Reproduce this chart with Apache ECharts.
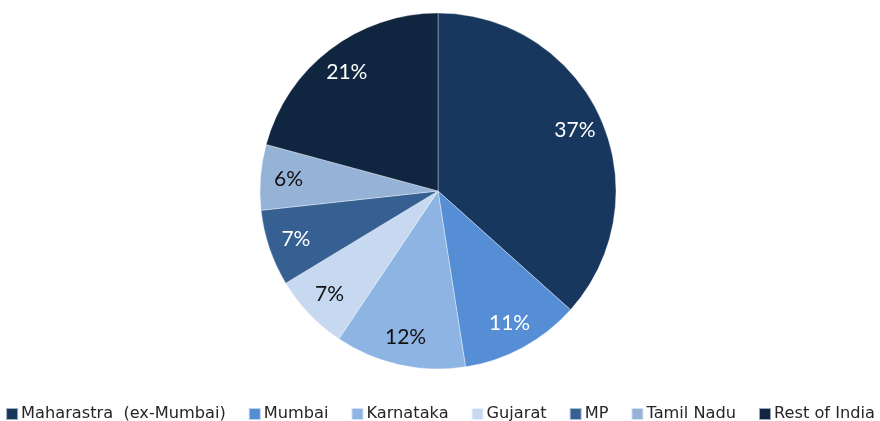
<!DOCTYPE html>
<html>
<head>
<meta charset="utf-8">
<script src="https://cdn.jsdelivr.net/npm/echarts@6/dist/echarts.min.js"></script>
<style>
  html, body { margin: 0; padding: 0; background: #ffffff; }
  #chart { width: 880px; height: 421px; }
</style>
</head>
<body>
<div id="chart"></div>
<script>
// Regional share of the portfolio (%)
const regions = ['Maharastra  (ex-Mumbai)', 'Mumbai', 'Karnataka', 'Gujarat', 'MP', 'Tamil Nadu', 'Rest of India'];
const shares = [37, 11, 12, 7, 7, 6, 21];
const sliceColors = ['#17375e', '#558ed5', '#8eb4e3', '#c6d9f1', '#376092', '#95b3d7', '#10253f'];
const labelColors = ['#ffffff', '#ffffff', '#111111', '#111111', '#ffffff', '#111111', '#ffffff'];

const LABEL_FONT = 'Lato, "Open Sans", sans-serif';
const LEGEND_FONT = '"DejaVu Sans", Verdana, sans-serif';

const pieData = regions.map((name, i) => ({
  name: name,
  value: shares[i],
  itemStyle: { color: sliceColors[i] }
}));

// Transparent ring carrying the percentage labels further out from the centre
const labelData = regions.map((name, i) => ({
  name: name,
  value: shares[i],
  itemStyle: { color: 'rgba(0,0,0,0)' },
  label: { color: labelColors[i] }
}));

const chart = echarts.init(document.getElementById('chart'), null, { renderer: 'canvas' });
chart.setOption({
  animation: false,
  backgroundColor: '#ffffff',
  legend: {
    left: 'center',
    top: 401,
    icon: 'rect',
    itemWidth: 12,
    itemHeight: 12,
    itemGap: 22,
    textStyle: { fontFamily: LEGEND_FONT, fontSize: 16.2, color: '#262626', padding: [0, 0, 0, -2] },
    data: regions
  },
  series: [
    {
      type: 'pie',
      center: [438, 191],
      radius: [0, 178],
      startAngle: 90,
      clockwise: true,
      silent: true,
      label: { show: false },
      labelLine: { show: false },
      itemStyle: { borderColor: 'rgba(255,255,255,0.6)', borderWidth: 0.6 },
      data: pieData
    },
    {
      type: 'pie',
      center: [438, 191],
      radius: [116, 178],
      startAngle: 90,
      clockwise: true,
      silent: true,
      legendHoverLink: false,
      label: {
        show: true,
        position: 'inside',
        formatter: '{c}%',
        fontFamily: LABEL_FONT,
        fontSize: 21
      },
      labelLine: { show: false },
      data: labelData
    }
  ]
});
</script>
</body>
</html>
